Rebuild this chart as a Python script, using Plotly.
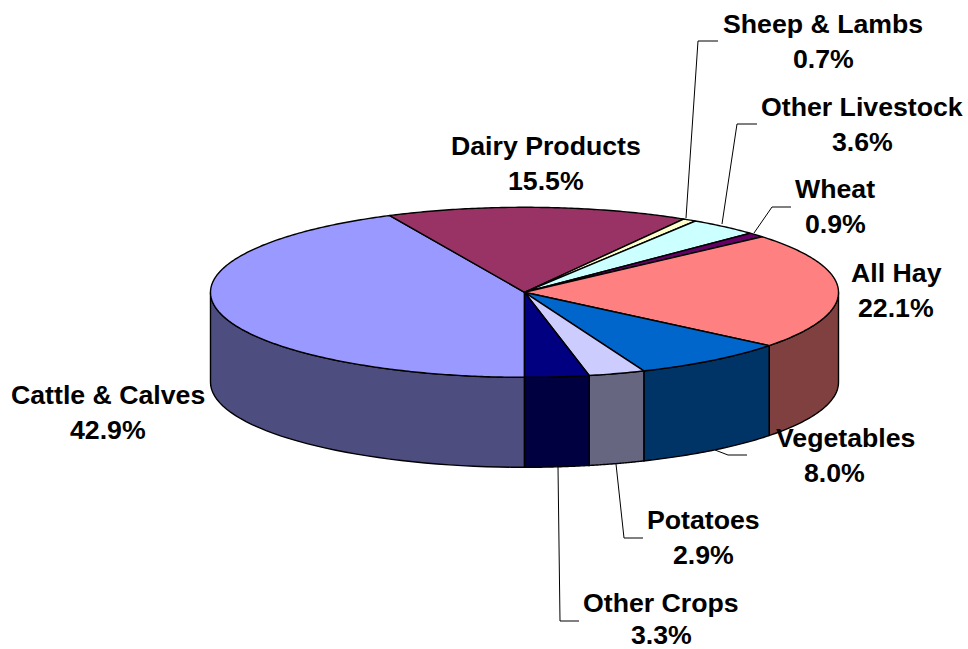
import numpy as np
import plotly.graph_objects as go

# Data
categories = ["Cattle & Calves", "Dairy Products", "Sheep & Lambs", "Other Livestock",
              "Wheat", "All Hay", "Vegetables", "Potatoes", "Other Crops"]
shares = [42.9, 15.5, 0.7, 3.6, 0.9, 22.1, 8.0, 2.9, 3.3]

# Styles
top_colors = ["#9999FF", "#993366", "#FFFFCC", "#CCFFFF", "#660066",
              "#FF8080", "#0066CC", "#CCCCFF", "#000080"]
side_colors = ["#4D4D80", "#4D1A33", "#808066", "#668080", "#330033",
               "#804040", "#003366", "#666680", "#000040"]

# Geometry of the projected pie (pixel-like axis units)
CX, CY, RX, RY, DEPTH = 524.5, 292.3, 314, 85, 90
START_DEG = 180.0

# Label centres (name line), value-line offsets and leader lines
name_xy = [(108, 395), (546, 146), (823, 24), (862, 107), (835, 189),
           (896, 273), (845, 438), (703, 520), (661, 603)]
value_dx = [0, 0, 0, 0, 0, 0, -11, 0, 0]
value_dy = [35, 35, 35, 35, 35, 35, 35, 35, 32]
leaders = {
    "Sheep & Lambs": ([686, 698, 718], [218, 41, 41]),
    "Other Livestock": ([722, 737, 757], [224, 124, 124]),
    "Wheat": ([754, 772, 791], [233, 207, 207]),
    "Vegetables": ([715, 728, 747], [450, 455, 455]),
    "Potatoes": ([616, 624, 643], [464, 538, 538]),
    "Other Crops": ([558, 560, 579], [467, 621, 621]),
}


def ellipse(t_deg, dy=0.0):
    t = np.radians(t_deg)
    return CX + RX * np.sin(t), CY - RY * np.cos(t) + dy


# The rounded shares add up to 99.9, so normalise them to close the circle
fractions = np.array(shares) / sum(shares)
edges = START_DEG + np.concatenate([[0], np.cumsum(fractions)]) * 360
fig = go.Figure()
line = dict(color="black", width=1.4, simplify=False)

# Side walls: only the front half (90..270 degrees) is visible
for i, name in enumerate(categories):
    for shift in (-360, 0, 360):
        a = max(edges[i] + shift, 90)
        b = min(edges[i + 1] + shift, 270)
        if b - a < 1e-3:
            continue
        ts = np.linspace(a, b, 40)
        x1, y1 = ellipse(ts)
        x2, y2 = ellipse(ts[::-1], DEPTH)
        fig.add_trace(go.Scatter(
            x=np.r_[x1, x2, x1[0]], y=np.r_[y1, y2, y1[0]], mode="lines",
            fill="toself", fillcolor=side_colors[i], line=line,
            hoverinfo="skip", showlegend=False))

# Top wedges
for i, name in enumerate(categories):
    ts = np.linspace(edges[i], edges[i + 1], max(8, int(shares[i] * 6)))
    x, y = ellipse(ts)
    fig.add_trace(go.Scatter(
        x=np.r_[CX, x, CX], y=np.r_[CY, y, CY], mode="lines",
        fill="toself", fillcolor=top_colors[i], line=line,
        name=name, text=f"{name}: {shares[i]:.1f}%", hoverinfo="text", showlegend=False))

# Leader lines
for name, (lx, ly) in leaders.items():
    fig.add_trace(go.Scatter(x=lx, y=ly, mode="lines",
                             line=dict(color="black", width=1),
                             hoverinfo="skip", showlegend=False))

# Labels
font = dict(family="Liberation Sans", size=26.7, color="black")
for name, val, (lx, ly), dx, dy in zip(categories, shares, name_xy, value_dx, value_dy):
    fig.add_annotation(x=lx, y=ly, xref="x", yref="y", showarrow=False,
                       text=f"<b>{name}</b>", font=font)
    fig.add_annotation(x=lx + dx, y=ly + dy, xref="x", yref="y", showarrow=False,
                       text=f"<b>{val:.1f}%</b>", font=font)

fig.update_layout(
    width=968, height=649, margin=dict(l=0, r=0, t=0, b=0),
    paper_bgcolor="white", plot_bgcolor="white",
    xaxis=dict(range=[0, 968], visible=False, fixedrange=True),
    yaxis=dict(range=[649, 0], visible=False, fixedrange=True),
)
fig.write_html("out.html", config={"displayModeBar": False},
               post_script="document.body.style.margin='0';document.body.style.overflow='hidden';")
